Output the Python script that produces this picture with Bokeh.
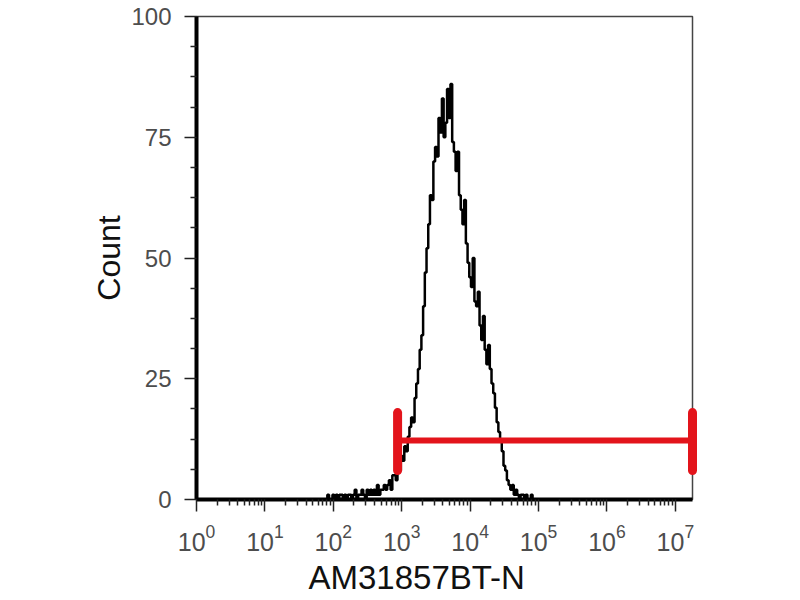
import numpy as np
from bokeh.plotting import figure
from bokeh.models import Range1d, FixedTicker, LogTickFormatter, Title
from bokeh.embed import file_html
from bokeh.resources import INLINE

# ---- data ----
channel_log_start = 1.9      # log10 of the first channel shown
channel_log_step = 0.025     # channel width in decades
counts = [
    0, 1, 0, 0,
    1, 0, 1, 0, 1, 1, 0, 1,
    0, 1, 1, 0, 1, 2, 0, 1,
    1, 2, 1, 0, 2, 1, 2, 1,
    2, 1, 3, 1, 2, 2, 3, 2,
    3, 4, 2, 5,
    5, 4, 7, 6,
    9, 8, 11, 10,
    13, 15, 17, 16,
    21, 24, 27, 31,
    34, 40, 47, 52,
    57, 63, 62, 70,
    73, 71, 79, 76,
    83, 75, 78, 85,
    79, 86, 74, 72,
    68, 72, 63, 60,
    57, 62, 53, 49,
    46, 44, 50, 41,
    40, 43, 36, 33,
    38, 31, 28, 32,
    27, 24, 22, 19,
    16, 14, 12, 10,
    7, 6, 4, 3,
    2, 3, 1, 2,
    1, 0, 1, 1,
    0, 1, 0, 0,
    1, 0, 0,
]
x_min, x_max = 1.0, 1.78e7
y_min, y_max = 0, 100
y_major = [0, 25, 50, 75, 100]
y_minor = [6.25, 12.5, 18.75, 31.25, 37.5, 43.75, 56.25, 62.5, 68.75, 81.25, 87.5, 93.75]
x_major = [10.0 ** d for d in range(0, 8)]
x_minor = [k * 10.0 ** d for d in range(0, 8) for k in range(2, 10) if k * 10.0 ** d < x_max]

gate_low, gate_high = 870.0, 1.78e7
gate_level = 12.2
gate_cap_bottom, gate_cap_top = 6.0, 18.0

x_label = "AM31857BT-N"
y_label = "Count"

# ---- derived ----
channel_x = 10.0 ** (channel_log_start + channel_log_step * np.arange(len(counts)))

FONT = "Liberation Sans"
W, H = 792, 600
FRAME_L, FRAME_R, FRAME_T, FRAME_B = 196, 692, 16, 499
p = figure(width=W, height=H, x_axis_type="log",
           x_range=Range1d(x_min, x_max), y_range=Range1d(y_min, y_max),
           output_backend="svg", toolbar_location=None,
           min_border_left=FRAME_L, min_border_right=W - FRAME_R,
           min_border_top=FRAME_T, min_border_bottom=H - FRAME_B)
p.background_fill_color = "white"
p.border_fill_color = "white"
p.grid.visible = False
p.outline_line_color = "#444444"
p.outline_line_width = 1.5

p.step(channel_x, counts, mode="center", line_color="black", line_width=2.5)

red = "#e3141b"
p.segment(x0=[gate_low], y0=[gate_level], x1=[gate_high], y1=[gate_level],
          line_color=red, line_width=6, level="overlay")
p.segment(x0=[gate_low, gate_high], y0=[gate_cap_bottom] * 2,
          x1=[gate_low, gate_high], y1=[gate_cap_top] * 2,
          line_color=red, line_width=9, line_cap="round", level="overlay")

# axes
for ax in (p.xaxis[0], p.yaxis[0]):
    ax.axis_line_color = "black"
    ax.axis_line_width = 4
    ax.major_tick_line_color = "#222222"
    ax.major_tick_line_width = 1.5
    ax.minor_tick_line_color = "#222222"
    ax.minor_tick_line_width = 1.5
    ax.major_tick_in = 0
    ax.major_tick_out = 12
    ax.minor_tick_in = 0
    ax.minor_tick_out = 6
    ax.major_label_text_font = FONT
    ax.major_label_text_color = "#4d4d4d"
    ax.axis_label_text_font = FONT
    ax.axis_label_text_font_size = "32px"
    ax.axis_label_text_font_style = "normal"
    ax.axis_label_text_color = "#111111"

p.yaxis[0].major_label_text_font_size = "24px"
p.xaxis[0].major_label_text_font_size = "25px"
p.yaxis[0].ticker = FixedTicker(ticks=y_major, minor_ticks=y_minor)
p.xaxis[0].ticker = FixedTicker(ticks=x_major, minor_ticks=x_minor)
p.xaxis[0].formatter = LogTickFormatter()
p.yaxis[0].major_label_standoff = 13
p.xaxis[0].major_label_standoff = 12
p.yaxis[0].axis_label = y_label
p.yaxis[0].axis_label_standoff = 1

# x-axis title, placed as a title below so it can sit left of centre like the reference
p.add_layout(Title(text=x_label, align="left", offset=308 - FRAME_L, standoff=7,
                   text_font=FONT, text_font_size="33px", text_font_style="normal",
                   text_color="#111111"), "below")

open("out.html", "w").write(file_html(p, INLINE))
